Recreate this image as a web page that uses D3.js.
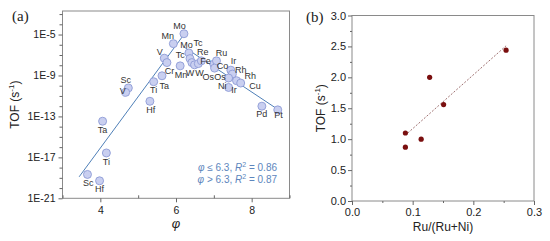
<!DOCTYPE html>
<html>
<head>
<script src="https://d3js.org/d3.v7.min.js"></script>
<style>
body { margin: 0; background: #fff; }
text { font-family: Arial, "Liberation Sans", sans-serif; }
.tick text { fill: #222; }
.pt-label { font-size: 9px; fill: #333; }
</style>
</head>
<body>
<div id="chart"></div>
<script>
// panel (a): TOF vs phi (log scale)
var phi    = [6.21, 5.93, 6.34, 5.69, 5.76, 6.11, 6.37, 6.42, 6.49, 6.59, 6.67, 7.00, 7.07, 7.02,
              7.45, 7.49, 7.39, 7.60, 7.71, 7.39, 8.27, 8.69, 5.41, 5.63, 5.31, 4.74, 4.67,
              4.06, 4.16, 3.66, 3.98];
var logTOF = [-4.92, -5.89, -6.80, -7.31, -7.74, -8.06, -7.35, -7.74, -7.96, -7.84, -7.57, -7.89, -7.57, -8.28,
              -8.48, -8.86, -9.25, -9.51, -9.74, -10.17, -12.0, -12.36, -9.61, -9.03, -11.52, -10.22, -10.65,
              -13.47, -16.57, -18.67, -19.29];

// element labels, placed in data units
var labelText = ["Mo","Mn","Mo","Tc","V","Tc","Re","Ru","Fe","Co","Ir","Rh","Cr","Mn","W","W",
                 "Os","Os","Rh","Cu","Ni","Ir","Sc","V","Ti","Ta","Hf","Pd","Pt","Ta","Ti","Sc","Hf"];
var labelPhi  = [6.09, 5.78, 6.28, 6.58, 5.57, 6.11, 6.71, 7.20, 6.78, 7.23, 7.52, 7.71, 5.83, 6.13, 6.37, 6.62,
                 6.85, 7.16, 7.96, 8.09, 7.22, 7.53, 4.67, 4.59, 5.41, 5.69, 5.33, 8.27, 8.71, 4.06, 4.16, 3.68, 3.98];
var labelLog  = [-4.17, -5.15, -6.0, -5.85, -6.67, -7.02, -6.72, -6.83, -7.55, -8.06, -7.60, -8.45, -8.57, -8.96, -8.74, -8.74,
                 -9.13, -9.13, -9.05, -9.97, -10.0, -10.42, -9.42, -10.49, -10.42, -9.99, -12.34, -12.71, -12.88, -14.27, -17.45, -19.49, -20.1];

// linear fits (log10 TOF)
var fitLeft  = {phi: [3.44, 6.18], log: [-18.9, -5.15]};
var fitRight = {phi: [6.21, 8.71], log: [-6.21, -12.36]};

var yMajor = [-21, -17, -13, -9, -5];

// panel (b): TOF vs Ru/(Ru+Ni)
var ruFrac = [0.254, 0.128, 0.151, 0.088, 0.114, 0.088];
var tofB   = [2.44, 2.00, 1.56, 1.10, 1.00, 0.87];
var fitB   = {x: [0.092, 0.254], y: [1.10, 2.51]};

var W = 550, H = 241;
var svg = d3.select("#chart").append("svg").attr("width", W).attr("height", H);

var axisCol = "#666", frameCol = "#8a8a8a";

function styleAxis(g) {
  g.select(".domain").remove();
  g.selectAll(".tick line").attr("stroke", axisCol);
}

// ---------- panel (a) ----------
var ax = d3.scaleLinear().domain([3, 9]).range([62.5, 289.5]);
var ay = d3.scaleLog().domain([1e-21, Math.pow(10, -2.7)]).range([198.3, 11]);

var ga = svg.append("g");
ga.append("rect").attr("x", ax(3)).attr("y", ay.range()[1])
  .attr("width", ax(9) - ax(3)).attr("height", ay.range()[0] - ay.range()[1])
  .attr("fill", "none").attr("stroke", frameCol).attr("stroke-width", 1);

var minorY = d3.range(-21, -2).filter(function(k) { return yMajor.indexOf(k) < 0; });
ga.append("g").attr("transform", "translate(" + ax(3) + ",0)")
  .call(d3.axisLeft(ay).tickValues(minorY.map(function(k) { return Math.pow(10, k); }))
    .tickSize(3).tickFormat(""))
  .call(styleAxis);
ga.append("g").attr("transform", "translate(" + ax(3) + ",0)")
  .call(d3.axisLeft(ay).tickValues(yMajor.map(function(k) { return Math.pow(10, k); }))
    .tickSize(4).tickPadding(3).tickFormat(function(d) { return "1E" + Math.round(Math.log10(d)); }))
  .call(styleAxis)
  .selectAll("text").style("font-size", "10.5px");

ga.append("g").attr("transform", "translate(0," + ay.range()[0] + ")")
  .call(d3.axisBottom(ax).tickValues([3, 5, 7, 9]).tickSize(-3).tickFormat(""))
  .call(styleAxis);
ga.append("g").attr("transform", "translate(0," + ay.range()[0] + ")")
  .call(d3.axisBottom(ax).tickValues([4, 6, 8]).tickSize(4).tickPadding(4).tickFormat(d3.format("d")))
  .call(styleAxis)
  .selectAll("text").style("font-size", "10.5px");

var lineA = d3.line().x(function(d) { return ax(d[0]); }).y(function(d) { return ay(Math.pow(10, d[1])); });
[fitLeft, fitRight].forEach(function(f) {
  ga.append("path").datum(d3.zip(f.phi, f.log)).attr("d", lineA)
    .attr("fill", "none").attr("stroke", "#4f80b8").attr("stroke-width", 1);
});

ga.selectAll("circle.pa").data(d3.zip(phi, logTOF)).enter().append("circle")
  .attr("class", "pa")
  .attr("cx", function(d) { return ax(d[0]); })
  .attr("cy", function(d) { return ay(Math.pow(10, d[1])); })
  .attr("r", 4)
  .attr("fill", "#c9cff0").attr("stroke", "#8d9bd6").attr("stroke-width", 0.9);

ga.selectAll("text.pt-label").data(d3.zip(labelText, labelPhi, labelLog)).enter().append("text")
  .attr("class", "pt-label")
  .attr("x", function(d) { return ax(d[1]); })
  .attr("y", function(d) { return ay(Math.pow(10, d[2])); })
  .attr("text-anchor", "middle").attr("dy", "0.35em")
  .text(function(d) { return d[0]; });

// fit legend
var leg = ga.append("g").style("font-size", "10px").attr("fill", "#5d86bd");
var t1 = leg.append("text").attr("x", 277).attr("y", 171).attr("text-anchor", "end");
t1.append("tspan").style("font-style", "italic").text("φ");
t1.append("tspan").text(" ≤ 6.3, ");
t1.append("tspan").style("font-style", "italic").text("R");
t1.append("tspan").attr("dy", -4).style("font-size", "7px").text("2");
t1.append("tspan").attr("dy", 4).text(" = 0.86");
var t2 = leg.append("text").attr("x", 277).attr("y", 183).attr("text-anchor", "end");
t2.append("tspan").style("font-style", "italic").text("φ");
t2.append("tspan").text(" > 6.3, ");
t2.append("tspan").style("font-style", "italic").text("R");
t2.append("tspan").attr("dy", -4).style("font-size", "7px").text("2");
t2.append("tspan").attr("dy", 4).text(" = 0.87");

ga.append("text").attr("x", (ax(3) + ax(9)) / 2).attr("y", 228).attr("text-anchor", "middle")
  .style("font-size", "13px").style("font-style", "italic").attr("fill", "#222").text("φ");

function yLabel(g, x, y) {
  var t = g.append("text").attr("transform", "translate(" + x + "," + y + ") rotate(-90)")
    .attr("text-anchor", "middle").style("font-size", "12px").attr("fill", "#222");
  t.append("tspan").text("TOF (s");
  t.append("tspan").attr("dy", -5).style("font-size", "8px").text("-1");
  t.append("tspan").attr("dy", 5).text(")");
}
yLabel(ga, 19, (ay.range()[0] + ay.range()[1]) / 2);

svg.append("text").attr("x", 12).attr("y", 21).style("font-family", "'Liberation Serif', 'DejaVu Serif', serif")
  .style("font-size", "15px").attr("fill", "#222").text("(a)");

// ---------- panel (b) ----------
var bx = d3.scaleLinear().domain([0, 0.3]).range([352, 534]);
var by = d3.scaleLinear().domain([0, 3]).range([201, 15.5]);

var gb = svg.append("g");
gb.append("rect").attr("x", bx(0)).attr("y", by(3))
  .attr("width", bx(0.3) - bx(0)).attr("height", by(0) - by(3))
  .attr("fill", "none").attr("stroke", frameCol).attr("stroke-width", 1);

gb.append("g").attr("transform", "translate(" + bx(0) + ",0)")
  .call(d3.axisLeft(by).tickValues(d3.range(0.25, 3, 0.5)).tickSize(2).tickFormat(""))
  .call(styleAxis);
gb.append("g").attr("transform", "translate(" + bx(0) + ",0)")
  .call(d3.axisLeft(by).tickValues(d3.range(0, 3.01, 0.5)).tickSize(4).tickPadding(2).tickFormat(d3.format(".1f")))
  .call(styleAxis)
  .selectAll("text").style("font-size", "11px");

gb.append("g").attr("transform", "translate(0," + by(0) + ")")
  .call(d3.axisBottom(bx).tickValues([0.05, 0.15, 0.25]).tickSize(2).tickFormat(""))
  .call(styleAxis);
gb.append("g").attr("transform", "translate(0," + by(0) + ")")
  .call(d3.axisBottom(bx).tickValues([0, 0.1, 0.2, 0.3]).tickSize(4).tickPadding(3).tickFormat(d3.format(".1f")))
  .call(styleAxis)
  .selectAll("text").style("font-size", "11px");

gb.append("path").datum(d3.zip(fitB.x, fitB.y))
  .attr("d", d3.line().x(function(d) { return bx(d[0]); }).y(function(d) { return by(d[1]); }))
  .attr("fill", "none").attr("stroke", "#946262").attr("stroke-width", 0.9).attr("stroke-dasharray", "2,1.6");

gb.selectAll("circle.pb").data(d3.zip(ruFrac, tofB)).enter().append("circle")
  .attr("class", "pb")
  .attr("cx", function(d) { return bx(d[0]); })
  .attr("cy", function(d) { return by(d[1]); })
  .attr("r", 2.6).attr("fill", "#7a0f0f");

gb.append("text").attr("x", (bx(0) + bx(0.3)) / 2).attr("y", 231).attr("text-anchor", "middle")
  .style("font-size", "12px").attr("fill", "#222").text("Ru/(Ru+Ni)");
yLabel(gb, 325, (by(0) + by(3)) / 2);

svg.append("text").attr("x", 306).attr("y", 22).style("font-family", "'Liberation Serif', 'DejaVu Serif', serif")
  .style("font-size", "15px").attr("fill", "#222").text("(b)");
</script>
</body>
</html>
